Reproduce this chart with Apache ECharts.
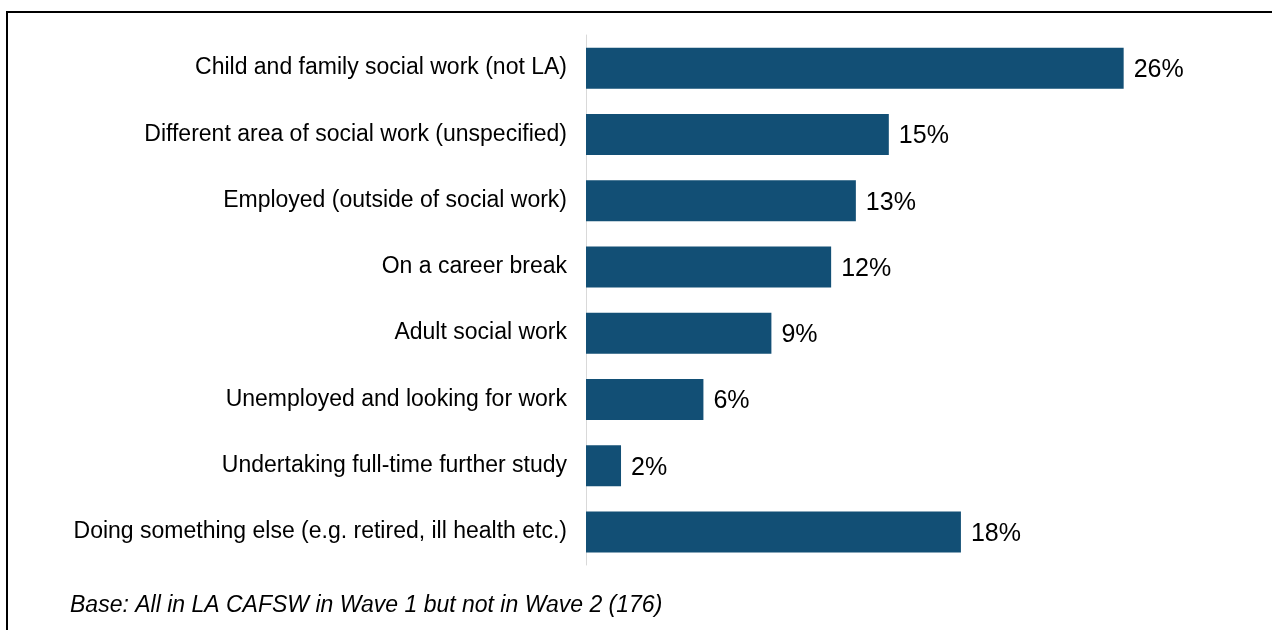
<!DOCTYPE html>
<html>
<head>
<meta charset="utf-8">
<script src="https://cdn.jsdelivr.net/npm/echarts@6/dist/echarts.min.js"></script>
<style>
  html, body { margin: 0; padding: 0; background: #fff; }
  #main { width: 1272px; height: 630px; }
</style>
</head>
<body>
<div id="main"></div>
<script>
var categories = [
    'Child and family social work (not LA)',
    'Different area of social work (unspecified)',
    'Employed (outside of social work)',
    'On a career break',
    'Adult social work',
    'Unemployed and looking for work',
    'Undertaking full-time further study',
    'Doing something else (e.g. retired, ill health etc.)'
];
var values = [26.1, 14.7, 13.1, 11.9, 9.0, 5.7, 1.7, 18.2];
var footnote = 'Base: All in LA CAFSW in Wave 1 but not in Wave 2 (176)';

var myChart = echarts.init(document.getElementById('main'));
var option = {
    animation: false,
    backgroundColor: '#fff',
    grid: {
        left: 586,
        right: 68,
        top: 35,
        bottom: 65
    },
    xAxis: {
        type: 'value',
        min: 0,
        max: 30,
        show: false
    },
    yAxis: {
        type: 'category',
        inverse: true,
        data: categories,
        axisLine: { lineStyle: { color: '#d9d9d9', width: 1 } },
        axisTick: { show: false },
        axisLabel: {
            color: '#000',
            fontFamily: 'Liberation Sans, Arial, sans-serif',
            fontSize: 23,
            margin: 19
        }
    },
    series: [
        {
            type: 'bar',
            data: values,
            barWidth: 41,
            itemStyle: { color: '#124f75' },
            label: {
                show: true,
                position: 'right',
                distance: 10,
                offset: [0, 2],
                color: '#000',
                fontFamily: 'Liberation Sans, Arial, sans-serif',
                fontSize: 25,
                formatter: function (p) { return Math.round(p.value) + '%'; }
            }
        }
    ],
    graphic: [
        {
            type: 'rect',
            shape: { x: 7, y: 12, width: 1400, height: 800 },
            style: { fill: 'none', stroke: '#000', lineWidth: 2 },
            silent: true
        },
        {
            type: 'text',
            left: 70,
            top: 594,
            style: {
                text: footnote,
                fill: '#000',
                font: 'italic 23px "Liberation Sans", Arial, sans-serif'
            }
        }
    ]
};
myChart.setOption(option);
</script>
</body>
</html>
